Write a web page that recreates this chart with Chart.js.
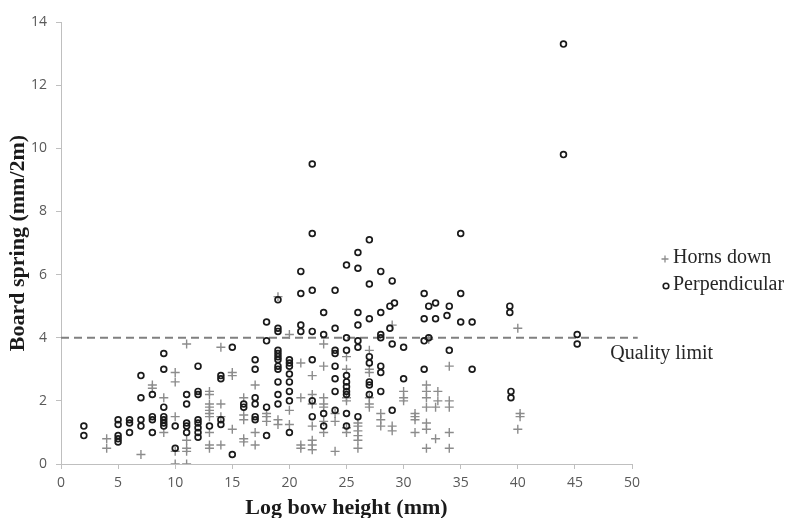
<!DOCTYPE html>
<html>
<head>
<meta charset="utf-8">
<script src="https://cdn.jsdelivr.net/npm/chart.js@4/dist/chart.umd.min.js"></script>
<style>
  html, body { margin: 0; padding: 0; background: #fff; }
  #wrap { width: 785px; height: 518px; position: relative; }
</style>
</head>
<body>
<div id="wrap"><canvas id="c" width="785" height="518"></canvas></div>
<script>
// ---- Data ----
const xTicks = [0, 5, 10, 15, 20, 25, 30, 35, 40, 45, 50];
const yTicks = [0, 2, 4, 6, 8, 10, 12, 14];

const seriesNames = ["Horns down", "Perpendicular"];
const limitLabel = "Quality limit";
const limitValue = 4;
const limitX = [0, 50.5];

const hornsX = [4,4,7,8,8,9,9,10,10,10,10,10,11,11,11,11,11,
  13,13,13,13,13,13,13,13,13,13,14,14,14,14,15,15,15,
  16,16,16,16,16,17,17,17,18,18,18,19,19,19,20,20,20,
  21,21,21,21,22,22,22,22,22,22,22,23,23,23,23,23,23,23,
  24,24,24,25,25,25,25,25,25,26,26,26,26,26,26,
  27,27,27,27,27,27,28,28,28,29,29,29,30,30,30,
  31,31,31,31,32.2,32,32,32,32,32,32,32,33,33,32.8,32.8,
  34,34,34,34,34,40,40.2,40.2,40];
const hornsY = [0.8,0.5,0.3,2.5,2.4,2.1,1.0,2.9,2.6,1.5,0.4,0,3.8,0.75,0.5,0.4,0,
  2.3,2.2,1.9,1.8,1.7,1.6,1.5,1.0,0.6,0.5,3.7,1.9,1.5,0.6,2.9,2.8,1.1,
  2.1,1.55,1.4,0.8,0.7,2.5,1.0,0.6,1.6,1.5,1.35,5.3,1.4,1.25,4.1,1.7,1.25,
  3.2,2.1,0.6,0.5,2.8,2.2,1.9,1.2,0.75,0.6,0.45,3.8,3.1,2.1,1.9,1.8,1.35,1.0,
  1.6,1.35,0.4,3.4,3.0,2.1,2.0,1.15,1.0,1.3,1.2,1.05,0.9,0.75,0.5,
  3.6,3.0,2.9,2.1,1.9,1.8,1.6,1.4,1.2,4.4,1.2,1.05,2.3,2.1,2.0,
  1.6,1.5,1.4,1.0,3.95,2.5,2.3,2.1,1.8,1.3,1.1,0.5,2.3,2.0,1.8,0.8,
  3.1,2.0,1.8,1.0,0.5,4.3,1.6,1.5,1.1];

const perpX = [2,2,5,5,5,5,5,6,6,6,7,7,7,7,8,8,8,8,9,9,9,9,9,9,9,10,10,
  11,11,11,11,11,12,12,12,12,12,12,12,12,13,14,14,14,14,15,15,
  16,16,17,17,17,17,17,17,18,18,18,18,
  19,19,19,19,19,19,19,19,19,19,19,19,
  20,20,20,20,20,20,20,20,
  21,21,21,21,22,22,22,22,22,22,22,23,23,23,23,
  24,24,24,24,24,24,24,24,25,25,25,25,25,25,25,25,25,25,
  26,26,26,26,26,26,26,27,27,27,27,27,27,27,27,
  28,28,28,28,28,28,28,29,28.8,29.2,28.8,29,29,30,30,
  31.8,32.2,31.8,31.8,32.2,31.8,32.8,32.8,34,33.8,34,35,35,35,36,36,
  39.3,39.3,39.4,39.4,44,44,45.2,45.2];
const perpY = [1.2,0.9,1.4,1.25,0.9,0.8,0.7,1.4,1.3,1.0,2.8,2.1,1.4,1.2,2.2,1.5,1.4,1.0,3.5,3.0,1.8,1.5,1.4,1.3,1.2,1.2,0.5,
  2.2,1.9,1.3,1.2,1.0,3.1,2.3,2.2,1.4,1.3,1.15,1.0,0.85,1.2,2.8,2.7,1.4,1.25,3.7,0.3,
  1.9,1.8,3.3,3.0,2.1,1.9,1.5,1.4,4.5,3.9,1.8,0.9,
  5.2,4.3,4.2,3.6,3.5,3.4,3.3,3.1,3.0,2.6,2.2,1.9,
  3.3,3.2,3.1,2.85,2.6,2.3,2.0,1.0,
  6.1,5.4,4.4,4.2,9.5,7.3,5.5,4.2,3.3,2.0,1.5,4.8,4.1,1.6,1.2,
  5.5,4.3,3.6,3.5,3.1,2.7,2.3,1.7,6.3,4.0,3.6,2.8,2.6,2.45,2.3,2.2,1.6,1.2,
  6.7,6.2,4.8,4.4,3.9,3.7,1.5,7.1,5.7,4.6,3.4,3.2,2.6,2.5,2.2,
  6.1,4.8,4.1,4.0,3.1,2.9,2.3,5.8,5.0,5.1,4.3,3.8,1.7,3.7,2.7,
  5.4,5.0,4.6,3.9,4.0,3.0,5.1,4.6,5.0,4.7,3.6,7.3,5.4,4.5,4.5,3.0,
  5.0,4.8,2.3,2.1,13.3,9.8,4.1,3.8];

const toPoints = (xs, ys) => xs.map((x, i) => ({ x: x, y: ys[i] }));

const tickFont = { family: "'Open Sans', 'Liberation Sans', sans-serif", size: 14 };
const serif = "'Liberation Serif', 'DejaVu Serif', serif";

const overlay = {
  id: 'overlay',
  afterDraw(chart) {
    const ctx = chart.ctx;
    const xs = chart.scales.x, ys = chart.scales.y;
    ctx.save();
    ctx.font = "20px " + serif;
    ctx.fillStyle = '#262626';
    ctx.textBaseline = 'middle';
    ctx.textAlign = 'left';
    // Horns down marker
    ctx.strokeStyle = '#8c8c8c';
    ctx.lineWidth = 1.3;
    ctx.beginPath();
    ctx.moveTo(661.5, 259); ctx.lineTo(668.5, 259);
    ctx.moveTo(665, 255.5); ctx.lineTo(665, 262.5);
    ctx.stroke();
    ctx.fillText(seriesNames[0], 673, 258);
    // Perpendicular marker
    ctx.strokeStyle = '#1a1a1a';
    ctx.lineWidth = 1.6;
    ctx.beginPath();
    ctx.arc(666, 286, 2.8, 0, Math.PI * 2);
    ctx.stroke();
    ctx.fillText(seriesNames[1], 673, 285);
    // Quality limit label
    ctx.fillText(limitLabel, xs.getPixelForValue(48.1), ys.getPixelForValue(3.5));
    ctx.restore();
  }
};

new Chart(document.getElementById('c'), {
  type: 'scatter',
  data: {
    datasets: [
      {
        label: limitLabel,
        data: limitX.map(x => ({ x: x, y: limitValue })),
        showLine: true,
        borderColor: '#808080',
        borderWidth: 2,
        borderDash: [8, 5],
        pointRadius: 0,
        clip: false,
        order: 3
      },
      {
        label: seriesNames[0],
        data: toPoints(hornsX, hornsY),
        pointStyle: 'cross',
        pointRadius: 4.5,
        borderColor: '#8c8c8c',
        backgroundColor: '#8c8c8c',
        borderWidth: 1.4,
        order: 2
      },
      {
        label: seriesNames[1],
        data: toPoints(perpX, perpY),
        pointStyle: 'circle',
        pointRadius: 2.9,
        borderColor: '#1a1a1a',
        backgroundColor: 'rgba(255,255,255,0)',
        borderWidth: 1.7,
        order: 1
      }
    ]
  },
  options: {
    responsive: false,
    animation: false,
    devicePixelRatio: 1,
    layout: { padding: { left: 0, right: 153, top: 22, bottom: 0 } },
    plugins: { legend: { display: false }, tooltip: { enabled: false } },
    scales: {
      x: {
        type: 'linear',
        min: xTicks[0], max: xTicks[xTicks.length - 1],
        afterBuildTicks: (s) => { s.ticks = xTicks.map(v => ({ value: v })); },
        afterFit: (s) => { s.height = 54; },
        border: { color: '#bfbfbf', width: 1 },
        grid: { drawOnChartArea: false, drawTicks: true, tickLength: 5, color: '#bfbfbf' },
        ticks: { color: '#595959', font: tickFont, padding: 6, maxRotation: 0 },
        title: {
          display: true, text: 'Log bow height (mm)', color: '#1a1a1a',
          font: { family: serif, size: 22, weight: 'bold' }, padding: { top: 0, bottom: -4 }
        }
      },
      y: {
        type: 'linear',
        min: yTicks[0], max: yTicks[yTicks.length - 1],
        afterBuildTicks: (s) => { s.ticks = yTicks.map(v => ({ value: v })); },
        afterFit: (s) => { s.width = 61; },
        border: { color: '#bfbfbf', width: 1 },
        grid: { drawOnChartArea: false, drawTicks: true, tickLength: 5, color: '#bfbfbf' },
        ticks: { color: '#595959', font: tickFont, padding: 9 },
        title: {
          display: true, text: 'Board spring (mm/2m)', color: '#1a1a1a',
          font: { family: serif, size: 22, weight: 'bold' }, padding: { top: 5, bottom: 0 }
        }
      }
    }
  },
  plugins: [overlay]
});
</script>
</body>
</html>
